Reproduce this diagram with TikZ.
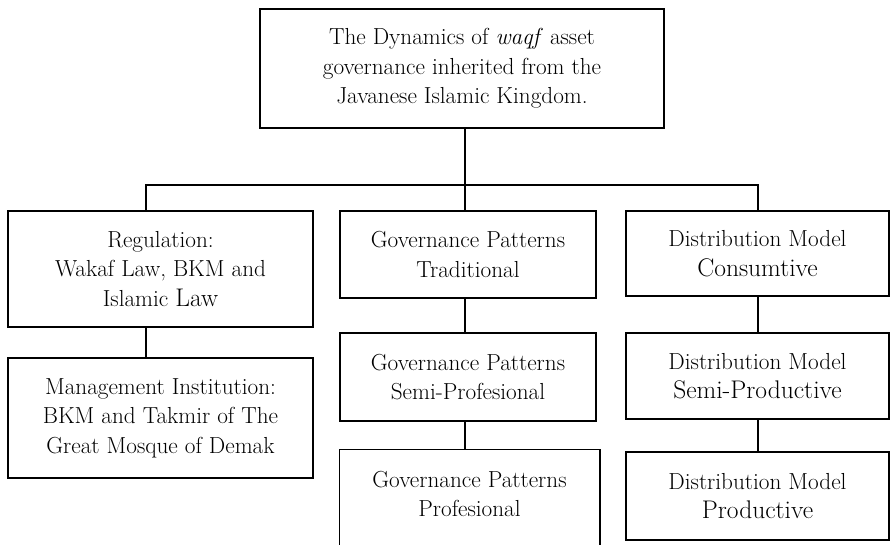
\documentclass[tikz,border=0pt]{standalone}
\usepackage{fontspec}
\setmainfont{Latin Modern Roman}
\begin{document}
\begin{tikzpicture}[x=1pt,y=-1pt,
  box/.style={draw, line width=1.5pt, align=center, inner sep=0pt,
    font=\fontsize{23.2}{29.5}\selectfont},
  conn/.style={line width=1.5pt}]
\useasboundingbox (0,0) rectangle (891,544);
\clip (0,0) rectangle (891,544);
\newcommand{\bigtxt}[1]{{\fontsize{25.5}{29.5}\selectfont #1}}
% top
\node[box, minimum width=404pt, minimum height=119pt] (top) at (462,68.5)
  {The Dynamics of \textit{waqf} asset\\governance inherited from the\\Javanese Islamic Kingdom.};
% left column
\node[box, minimum width=305pt, minimum height=116pt] (reg) at (160.5,269)
  {Regulation:\\Wakaf Law, BKM and\\Islamic \bigtxt{Law}};
\node[box, minimum width=305pt, minimum height=120pt] (mgmt) at (160.5,418)
  {Management Institution:\\BKM and Takmir of The\\Great Mosque of Demak};
% middle column
\node[box, minimum width=256pt, minimum height=87pt] (g1) at (468,254.5)
  {Governance Patterns\\Traditional};
\node[box, minimum width=256pt, minimum height=88pt] (g2) at (468,377)
  {Governance Patterns\\Semi-Profesional};
\node[box, draw=none, minimum width=259pt, minimum height=88pt] (g3) at (469.5,494)
  {Governance Patterns\\Profesional};
\draw[conn] (g3.north west) ++(0,120) -- (g3.north west) -- (g3.north east) -- ++(0,120);
% right column
\node[box, minimum width=263pt, minimum height=85pt] (d1) at (757.5,253.5)
  {Distribution Model\\\bigtxt{Consumtive}};
\node[box, minimum width=263pt, minimum height=86pt] (d2) at (757.5,376)
  {Distribution Model\\\bigtxt{Semi-Productive}};
\node[box, minimum width=263pt, minimum height=88pt] (d3) at (757.5,496)
  {Distribution Model\\\bigtxt{Productive}};
% connectors
\coordinate (bus) at (465,185);
\coordinate (busL) at (146,185);
\coordinate (busR) at (758,185);
\draw[conn] (top.south -| bus) -- (bus |- g1.north);
\draw[conn] (busL |- reg.north) -- (busL) -- (busR) -- (busR |- d1.north);
\draw[conn] (reg.south -| busL) -- (mgmt.north -| busL);
\draw[conn] (g1.south -| bus) -- (g2.north -| bus);
\draw[conn] (g2.south -| bus) -- (g3.north -| bus);
\draw[conn] (d1.south -| busR) -- (d2.north -| busR);
\draw[conn] (d2.south -| busR) -- (d3.north -| busR);
\end{tikzpicture}
\end{document}
